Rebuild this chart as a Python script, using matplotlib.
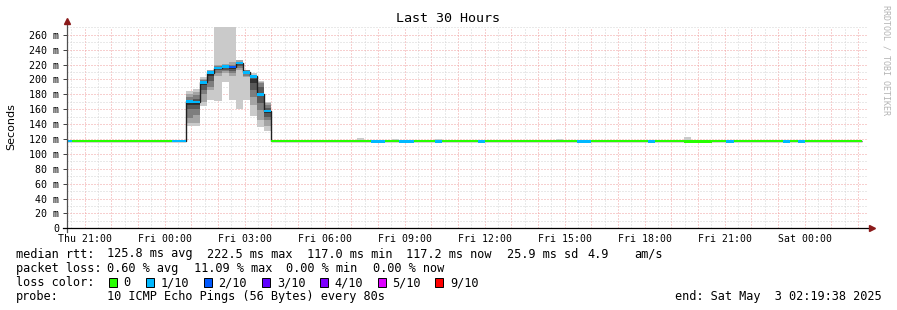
import matplotlib
matplotlib.use("Agg")
import matplotlib.pyplot as plt
from matplotlib.patches import Rectangle

W, H, DPI = 897, 310, 100
MONO = "DejaVu Sans Mono"

# time axis: hours since graph start (Thu 20:19:38), data in 16 min bins starting Thu 20:16
bin_width = 16 / 60
first_bin = -3.633 / 60

# median rtt per bin (ms)
median = [
    117.0, 117.0, 117.2, 117.0, 117.0, 117.0, 117.6, 117.6, 117.6, 117.4,
    117.0, 117.4, 117.2, 117.2, 117.2, 117.2, 117.2, 170.5, 170.0, 196.0,
    209.0, 215.5, 217.5, 216.5, 222.0, 209.5, 204.0, 180.0, 157.5, 117.6,
    117.4, 117.0, 117.0, 117.0, 117.4, 117.4, 117.0, 117.0, 117.0, 117.0,
    117.2, 117.2, 117.0, 116.8, 116.8, 117.0, 117.2, 116.8, 116.8, 117.0,
    117.0, 117.0, 116.8, 117.0, 117.0, 117.0, 117.0, 117.2, 116.8, 117.0,
    117.0, 117.2, 117.2, 117.2, 117.0, 117.0, 117.0, 117.2, 117.2, 117.2,
    117.0, 117.0, 116.6, 116.6, 117.2, 117.2, 117.2, 117.2, 117.2, 117.2,
    117.2, 117.0, 116.8, 117.2, 117.2, 117.2, 117.2, 116.6, 116.8, 116.8,
    116.8, 117.0, 117.0, 116.8, 117.2, 117.2, 117.2, 117.2, 117.0, 117.0,
    117.0, 116.6, 117.2, 116.8, 117.0, 117.0, 117.0, 117.0, 117.0, 117.0,
    117.0, 117.0,
]

# lost pings out of 10 per bin
loss = [
    1, 0, 0, 0, 0, 0, 0, 0, 0, 0,
    0, 0, 0, 0, 0, 1, 1, 1, 1, 1,
    1, 1, 1, 2, 1, 1, 1, 1, 1, 0,
    0, 0, 0, 0, 0, 0, 0, 0, 0, 0,
    0, 0, 0, 1, 1, 0, 0, 1, 1, 0,
    0, 0, 1, 0, 0, 0, 0, 0, 1, 0,
    0, 0, 0, 0, 0, 0, 0, 0, 0, 0,
    0, 0, 1, 1, 0, 0, 0, 0, 0, 0,
    0, 0, 1, 0, 0, 0, 0, 0, 0, 0,
    0, 0, 0, 1, 0, 0, 0, 0, 0, 0,
    0, 1, 0, 1, 0, 0, 0, 0, 0, 0,
    0, 0,
]

# sorted ping times (ms) for the bins of the spike
spike_start = 17
spike_pings = [
    [137, 141, 148, 160, 165, 171, 173, 176, 181, 184],
    [137, 141, 152, 160, 166, 171, 174, 179, 183.6, 186.7],
    [164, 170, 181, 186, 192, 196, 198, 199, 201, 203.6],
    [172, 186, 190, 198, 204, 208, 209, 210, 212, 213],
    [171, 204, 208, 212, 214, 216, 217, 218, 219, 280],
    [196, 208, 211, 213, 215, 217, 218, 219, 221, 280],
    [172, 205, 208, 211, 214, 216, 218, 220, 223, 280],
    [160, 212, 215, 218, 221, 222, 223, 224, 225.8, 226.7],
    [172, 203, 205, 207, 209, 210, 211, 212, 212.5, 213],
    [151, 165, 177, 186, 195, 200, 203, 204, 206, 208],
    [136, 146, 159, 168, 178, 182, 190, 194.7, 197, 198],
    [131, 137, 145, 150, 155, 158, 162, 165, 168, 170],
]

# small smoke bumps on the flat part
bump_idx = [2, 41, 46, 52, 69, 87]
bump_lo = [116.5, 116.5, 116.5, 116.5, 116.5, 116.5]
bump_hi = [119.0, 121.0, 120.0, 120.0, 119.6, 122.7]

hour_ticks = [0.6728 + n for n in range(30)]
halfhour_ticks = [0.1728 + n for n in range(30)]
tick_names = ["Thu 21:00", "Fri 00:00", "Fri 03:00", "Fri 06:00", "Fri 09:00",
              "Fri 12:00", "Fri 15:00", "Fri 18:00", "Fri 21:00", "Sat 00:00"]
y_major = list(range(0, 261, 20))
y_minor = list(range(10, 271, 20))

loss_colors = {0: "#26ff00", 1: "#00b8ff", 2: "#0059ff", 3: "#5e00ff",
               4: "#7e00ff", 5: "#dd00ff", 9: "#ff0000"}
smoke_grays = ["#cacaca", "#a4a4a4", "#7e7e7e", "#585858", "#323232"]

fig = plt.figure(figsize=(W / DPI, H / DPI), dpi=DPI)
fig.patch.set_facecolor("white")
ax_l, ax_r, ax_b, ax_t = 66.7, 866.7, 228.3, 27.3
ax = fig.add_axes([ax_l / W, 1 - ax_b / H, (ax_r - ax_l) / W, (ax_b - ax_t) / H])
ax.set_xlim(0, 30)
ax.set_ylim(0, (ax_b - ax_t) / 0.75)

edges = [first_bin + i * bin_width for i in range(len(median) + 1)]

# smoke
for j, pings in enumerate(spike_pings):
    x0 = edges[spike_start + j]
    for i, c in enumerate(smoke_grays):
        lo, hi = pings[i], pings[9 - i]
        ax.bar(x0, hi - lo, bottom=lo, width=bin_width, align="edge",
               color=c, linewidth=0, zorder=2)
for k, lo, hi in zip(bump_idx, bump_lo, bump_hi):
    ax.bar(edges[k], hi - lo, bottom=lo, width=bin_width, align="edge",
           color=smoke_grays[0], linewidth=0, zorder=2)

# median line + loss coloured band
ax.stairs(median, edges, color="#202020", linewidth=1.0, baseline=None, zorder=3)
band = 3.3
ax.bar(edges[:-1], [band] * len(median), bottom=[m - band / 2 for m in median],
       width=bin_width, align="edge", color=[loss_colors[l] for l in loss],
       linewidth=0, zorder=4)

# grid
ax.set_xticks(hour_ticks)
ax.set_xticklabels([tick_names[n // 3] if n % 3 == 0 else "" for n in range(30)],
                   fontsize=7.1, family=MONO)
ax.set_xticks(halfhour_ticks, minor=True)
ax.set_yticks(y_major)
ax.set_yticklabels(["0"] + [f"{v} m" for v in y_major[1:]], fontsize=7.2, family=MONO)
ax.set_yticks(y_minor, minor=True)
ax.tick_params(axis="x", which="both", length=0, pad=4)
ax.tick_params(axis="y", which="major", length=3, width=0.7, color="#404040", pad=2.5)
ax.tick_params(axis="y", which="minor", length=0)
ax.grid(True, which="major", color="#f0a0a0", linestyle=(0, (1, 2)), linewidth=0.72)
ax.grid(True, which="minor", color="#d4d4d4", linestyle=(0, (1, 2)), linewidth=0.72)
ax.set_axisbelow(True)
for s in ax.spines.values():
    s.set_visible(False)

# axes with arrows
axh = ax_b - ax_t
axw = ax_r - ax_l
ax.plot([0, 0], [-3.5 / axh, 1 + 4 / axh], transform=ax.transAxes,
        color="#505050", linewidth=0.9, clip_on=False, zorder=5)
ax.plot([-4 / axw, 1 + 2 / axw], [0, 0], transform=ax.transAxes,
        color="black", linewidth=0.9, clip_on=False, zorder=5)
ax.plot([0], [1 + 6 / axh], marker="^", markersize=4.5, color="#8b1a1a",
        transform=ax.transAxes, clip_on=False, zorder=6)
ax.plot([1 + 5 / axw], [0], marker=">", markersize=4.5, color="#8b1a1a",
        transform=ax.transAxes, clip_on=False, zorder=6)

# texts
def ftext(x, y, s, **kw):
    kw.setdefault("family", MONO)
    kw.setdefault("fontsize", 8.6)
    kw.setdefault("va", "center")
    fig.text(x / W, 1 - y / H, s, **kw)

ftext(448, 19, "Last 30 Hours", ha="center", fontsize=9.6)
ftext(11, 127, "Seconds", ha="center", rotation=90, family="DejaVu Sans", fontsize=8)
ftext(886, 60, "RRDTOOL / TOBI OETIKER", ha="center", rotation=270,
      fontsize=6, color="#b4b4b4")

row1 = [(16, "median rtt:"), (107, "125.8 ms avg"), (207, "222.5 ms max"),
        (307, "117.0 ms min"), (406, "117.2 ms now"), (507, "25.9 ms sd"),
        (587, "4.9"), (634, "am/s")]
row2 = [(16, "packet loss:"), (107, "0.60 % avg"), (194, "11.09 % max"),
        (286, "0.00 % min"), (373, "0.00 % now")]
for x, s in row1:
    ftext(x, 254, s)
for x, s in row2:
    ftext(x, 268.3, s)

ftext(16, 282.7, "loss color:")
legend_boxes = [(108.5, 0, "0"), (146, 1, "1/10"), (203.5, 2, "2/10"),
                (262, 3, "3/10"), (319.5, 4, "4/10"), (377.5, 5, "5/10"),
                (435, 9, "9/10")]
for x, lvl, s in legend_boxes:
    fig.patches.append(Rectangle((x / W, 1 - 286.5 / H), 8 / W, 8.5 / H,
                                 transform=fig.transFigure, facecolor=loss_colors[lvl],
                                 edgecolor="black", linewidth=0.7))
    ftext(x + 15, 282.7, s)

ftext(16, 296.7, "probe:")
ftext(107, 296.7, "10 ICMP Echo Pings (56 Bytes) every 80s")
ftext(882, 296.7, "end: Sat May  3 02:19:38 2025", ha="right")

fig.savefig("out.png", dpi=DPI)
